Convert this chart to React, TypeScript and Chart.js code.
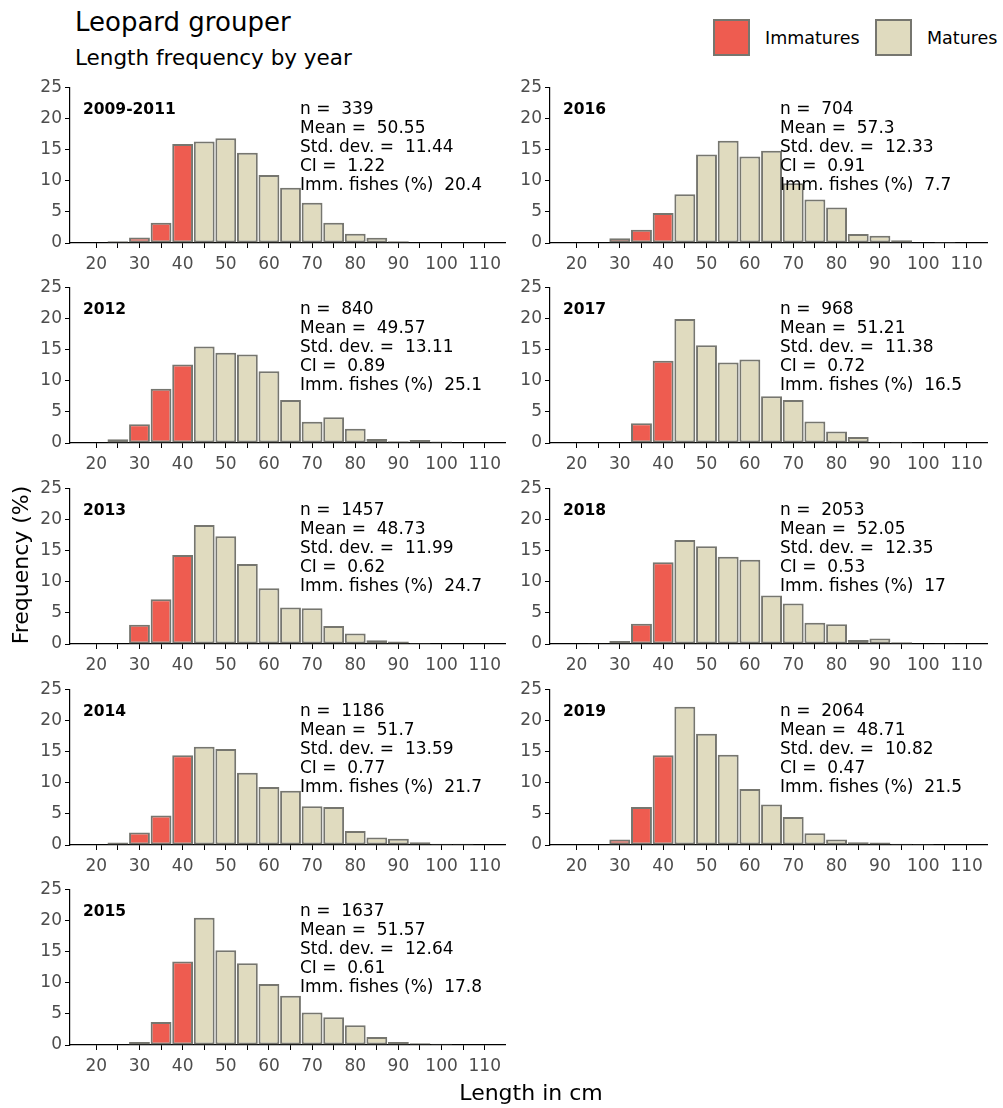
import React, { useEffect, useRef } from 'react';
import { Chart, registerables } from 'chart.js';

Chart.register(...registerables);

// ---------- data ----------
const bins = [20, 25, 30, 35, 40, 45, 50, 55, 60, 65, 70, 75, 80, 85, 90, 95, 100, 105, 110];
const maturityLimit = 40; // bins up to this length are immature
const xTickValues = [20, 25, 30, 35, 40, 45, 50, 55, 60, 65, 70, 75, 80, 85, 90, 95, 100, 105, 110];
const xTickLabels = ['20', '', '30', '', '40', '', '50', '', '60', '', '70', '', '80', '', '90', '', '100', '', '110'];
const yTickValues = [0, 5, 10, 15, 20, 25];

const panelLabels = ['2009-2011', '2016', '2012', '2017', '2013', '2018', '2014', '2019', '2015'];

const freq2009_2011 = [0, 0.3, 0.9, 3.25, 15.9, 16.3, 16.8, 14.5, 10.9, 8.85, 6.45, 3.25, 1.5, 0.85, 0.27, 0, 0, 0, 0];
const freq2016 = [0, 0, 0.75, 2.13, 4.8, 7.84, 14.2, 16.4, 13.9, 14.8, 9.6, 7.0, 5.7, 1.45, 1.15, 0.43, 0, 0.15, 0];
const freq2012 = [0.1, 0.6, 3.0, 8.7, 12.6, 15.5, 14.5, 14.2, 11.5, 6.9, 3.4, 4.15, 2.3, 0.65, 0.3, 0.5, 0.25, 0, 0];
const freq2017 = [0, 0, 0.1, 3.15, 13.2, 19.9, 15.7, 12.9, 13.4, 7.5, 6.9, 3.45, 1.85, 0.95, 0.2, 0.2, 0, 0, 0];
const freq2013 = [0, 0.1, 3.1, 7.2, 14.3, 19.1, 17.3, 12.85, 8.95, 5.85, 5.75, 2.9, 1.7, 0.6, 0.4, 0.15, 0, 0, 0];
const freq2018 = [0, 0.05, 0.5, 3.25, 13.1, 16.7, 15.7, 14.0, 13.5, 7.8, 6.5, 3.4, 3.15, 0.65, 0.9, 0.3, 0.1, 0.05, 0];
const freq2014 = [0, 0.4, 2.0, 4.75, 14.4, 15.75, 15.4, 11.6, 9.3, 8.7, 6.2, 6.1, 2.25, 1.2, 1.0, 0.45, 0.2, 0.2, 0];
const freq2019 = [0, 0, 0.9, 6.1, 14.4, 22.2, 17.85, 14.5, 9.0, 6.5, 4.5, 1.9, 0.9, 0.45, 0.4, 0.2, 0.15, 0, 0];
const freq2015 = [0, 0.1, 0.5, 3.7, 13.4, 20.4, 15.2, 13.1, 9.8, 7.9, 5.2, 4.45, 3.15, 1.3, 0.5, 0.3, 0.2, 0, 0.1];

const panelFrequencies = [freq2009_2011, freq2016, freq2012, freq2017, freq2013, freq2018, freq2014, freq2019, freq2015];

const nValues = ['339', '704', '840', '968', '1457', '2053', '1186', '2064', '1637'];
const meanValues = ['50.55', '57.3', '49.57', '51.21', '48.73', '52.05', '51.7', '48.71', '51.57'];
const sdValues = ['11.44', '12.33', '13.11', '11.38', '11.99', '12.35', '13.59', '10.82', '12.64'];
const ciValues = ['1.22', '0.91', '0.89', '0.72', '0.62', '0.53', '0.77', '0.47', '0.61'];
const immValues = ['20.4', '7.7', '25.1', '16.5', '24.7', '17', '21.7', '21.5', '17.8'];

const seriesNames = ['Immatures', 'Matures'];

// ---------- styling / layout ----------
const FONT = '"DejaVu Sans", sans-serif';
const IMM_COLOR = '#EE5C50';
const MAT_COLOR = '#E0DBBF';
const BAR_BORDER = '#76766f';
const TICK_COLOR = '#4D4D4D';

const COL_LEFT = [70, 550];
const COL_W = [435, 437];
const ROW_TOP = [86, 286, 487, 688, 888];
const PLOT_H = 157;
const Y_AXIS_W = 60;
const X_AXIS_H = 36;
const PAD_T = 12;
const PAD_R = 28;

function Panel({ index }: { index: number }) {
  const ref = useRef<HTMLCanvasElement>(null);
  const col = index % 2;
  const row = Math.floor(index / 2);
  const areaLeft = COL_LEFT[col];
  const areaTop = ROW_TOP[row];
  const cw = Y_AXIS_W + COL_W[col] + PAD_R;
  const ch = PAD_T + PLOT_H + X_AXIS_H;

  useEffect(() => {
    if (!ref.current) return;
    const freqs = panelFrequencies[index];
    const imm: { x: number; y: number }[] = [];
    const mat: { x: number; y: number }[] = [];
    bins.forEach((b, i) => {
      const v = freqs[i];
      if (!v) return;
      (b <= maturityLimit ? imm : mat).push({ x: b, y: v });
    });

    const textPlugin = {
      id: 'panelText',
      afterDatasetsDraw(chart: any) {
        const { ctx, chartArea } = chart;
        ctx.save();
        ctx.fillStyle = '#000';
        ctx.textAlign = 'left';
        ctx.textBaseline = 'alphabetic';
        ctx.font = `bold 15.5px ${FONT}`;
        ctx.fillText(panelLabels[index], chartArea.left + 13, chartArea.top + 26.7);
        ctx.font = `17px ${FONT}`;
        const lines = [
          `n =  ${nValues[index]}`,
          `Mean =  ${meanValues[index]}`,
          `Std. dev. =  ${sdValues[index]}`,
          `CI =  ${ciValues[index]}`,
          `Imm. fishes (%)  ${immValues[index]}`,
        ];
        lines.forEach((t, i) => ctx.fillText(t, chartArea.left + 230, chartArea.top + 26.7 + 18.9 * i));
        ctx.restore();
      },
    };

    const barCommon = {
      borderColor: BAR_BORDER,
      borderWidth: 2,
      borderSkipped: false,
      grouped: false,
      barPercentage: 0.965,
      categoryPercentage: 1,
    };

    const axisCommon = {
      grid: { drawOnChartArea: false, drawTicks: true, tickLength: 5, color: '#000', lineWidth: 1 },
      border: { display: true, color: '#000', width: 1.2 },
    };

    const chart = new Chart(ref.current, {
      type: 'bar',
      data: {
        datasets: [
          { label: seriesNames[0], data: imm, backgroundColor: IMM_COLOR, ...barCommon } as any,
          { label: seriesNames[1], data: mat, backgroundColor: MAT_COLOR, ...barCommon } as any,
        ],
      },
      options: {
        responsive: false,
        animation: false,
        devicePixelRatio: 1,
        layout: { padding: { left: 0, top: PAD_T, right: PAD_R, bottom: 0 } },
        plugins: { legend: { display: false }, tooltip: { enabled: false }, title: { display: false } },
        scales: {
          x: {
            type: 'linear',
            min: 13.9,
            max: 114.7,
            offset: false,
            afterBuildTicks: (s: any) => {
              s.ticks = xTickValues.map((v) => ({ value: v }));
            },
            afterFit: (s: any) => {
              s.height = X_AXIS_H;
            },
            ticks: {
              autoSkip: false,
              maxRotation: 0,
              minRotation: 0,
              padding: 6,
              color: TICK_COLOR,
              font: { family: FONT, size: 17 },
              callback: (v: any) => {
                const i = xTickValues.indexOf(Number(v));
                return i >= 0 ? xTickLabels[i] : '';
              },
            },
            ...axisCommon,
            grid: { ...axisCommon.grid, offset: false },
          },
          y: {
            type: 'linear',
            min: 0,
            max: 25,
            afterBuildTicks: (s: any) => {
              s.ticks = yTickValues.map((v) => ({ value: v }));
            },
            afterFit: (s: any) => {
              s.width = Y_AXIS_W;
            },
            ticks: {
              padding: 3,
              color: TICK_COLOR,
              font: { family: FONT, size: 17 },
            },
            ...axisCommon,
          },
        },
      } as any,
      plugins: [textPlugin],
    });
    return () => chart.destroy();
  }, [index]);

  return (
    <canvas
      ref={ref}
      width={cw}
      height={ch}
      style={{ position: 'absolute', left: areaLeft - Y_AXIS_W, top: areaTop - PAD_T, width: cw, height: ch }}
    />
  );
}

function textTop(baseline: number, size: number) {
  return baseline - 0.846 * size;
}

export default function App() {
  const legendBox = (left: number, color: string) => (
    <div
      style={{
        position: 'absolute',
        left,
        top: 18.5,
        width: 37,
        height: 37,
        boxSizing: 'border-box',
        background: color,
        border: `2px solid ${BAR_BORDER}`,
      }}
    />
  );
  const label = (text: string, left: number, baseline: number, size: number, extra: any = {}) => (
    <div
      style={{
        position: 'absolute',
        left,
        top: textTop(baseline, size),
        fontSize: size,
        lineHeight: `${size}px`,
        whiteSpace: 'pre',
        color: '#000',
        ...extra,
      }}
    >
      {text}
    </div>
  );
  return (
    <div
      style={{
        position: 'absolute',
        left: 0,
        top: 0,
        width: 1003,
        height: 1108,
        background: '#fff',
        fontFamily: FONT,
        overflow: 'hidden',
      }}
    >
      {label('Leopard grouper', 75, 30.7, 26)}
      {label('Length frequency by year', 75, 65, 21.5)}
      {legendBox(713, IMM_COLOR)}
      {label(seriesNames[0], 765, 44.7, 17.5)}
      {legendBox(875, MAT_COLOR)}
      {label(seriesNames[1], 927, 44.7, 17.5)}
      {panelLabels.map((_, i) => (
        <Panel key={i} index={i} />
      ))}
      {label('Length in cm', 431, 1101, 22, { width: 200, textAlign: 'center' })}
      <div
        style={{
          position: 'absolute',
          left: 20.9 - 100,
          top: 565 - 11,
          width: 200,
          height: 22,
          fontSize: 22,
          lineHeight: '22px',
          textAlign: 'center',
          transform: 'rotate(-90deg)',
          color: '#000',
          whiteSpace: 'pre',
        }}
      >
        Frequency (%)
      </div>
    </div>
  );
}
